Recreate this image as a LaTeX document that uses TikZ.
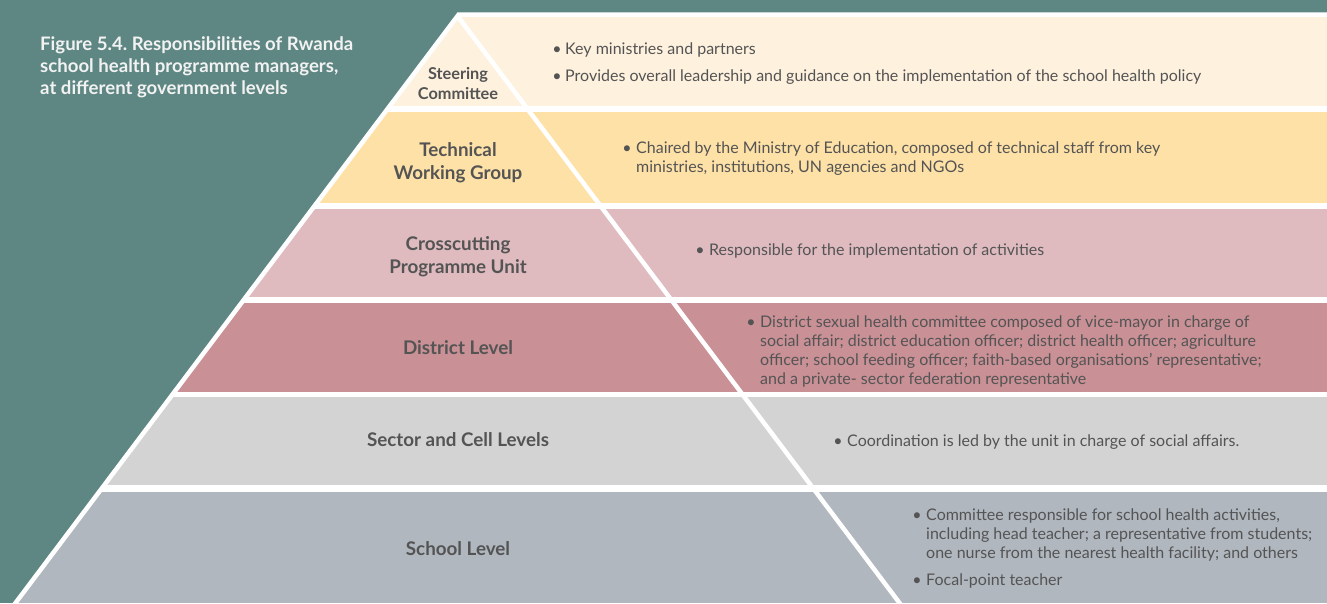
\documentclass[tikz,border=0pt]{standalone}
\usepackage{fontspec}
\setmainfont{Lato}
\frenchspacing
\definecolor{teal0}{HTML}{5E8783}
\definecolor{bandA}{HTML}{FEF2DF}
\definecolor{bandB}{HTML}{FEE1A7}
\definecolor{bandC}{HTML}{DFBBC0}
\definecolor{bandD}{HTML}{C99096}
\definecolor{bandE}{HTML}{D3D3D3}
\definecolor{bandF}{HTML}{B0B7BF}
\definecolor{txt}{HTML}{545454}
\tikzset{
  lvl/.style={font=\bfseries\fontsize{18.8}{23}\selectfont, text=txt, align=center, anchor=base, inner sep=0pt},
  lvlsmall/.style={lvl, font=\bfseries\fontsize{16.3}{20}\selectfont},
  item/.style={font=\fontsize{16}{19}\selectfont, text=txt, align=left, anchor=base west, inner sep=0pt},
  bul/.style={font=\fontsize{16}{19}\selectfont, text=txt, anchor=base, inner sep=0pt},
  ttl/.style={font=\bfseries\fontsize{18.6}{22}\selectfont, text=white!95!black, align=left, anchor=base west, inner sep=0pt},
  sep/.style={draw=white, line width=4.5pt}
}
\begin{document}
\begin{tikzpicture}[x=1pt,y=-1pt]
\useasboundingbox (0,0) rectangle (1327,603);
% background
\fill[teal0] (0,0) rectangle (1327,603);
% white base of pyramid + bands
\fill[white] (457.5,12.3) -- (1327,12.3) -- (1327,603) -- (15.5,603) -- (457.5,16) -- cycle;
\begin{scope}
  \clip (457.5,16) -- (1327,16) -- (1327,603) -- (15.5,603) -- cycle;
  \fill[bandA] (0,17.3) rectangle (1327,106);
  \fill[bandB] (0,111.5) rectangle (1327,203);
  \fill[bandC] (0,209) rectangle (1327,297);
  \fill[bandD] (0,303) rectangle (1327,391.5);
  \fill[bandE] (0,397) rectangle (1327,485);
  \fill[bandF] (0,491.5) rectangle (1327,603);
\end{scope}
% pyramid edges
\coordinate (apex) at (457.5,16);
\coordinate (baseL) at (0.4,623);
\coordinate (baseR) at (914.6,623);
\draw[sep] (baseL) -- (apex) -- (baseR);

% title (anchor = baseline of last line)
\node[ttl] (title) at (40,94.5) {Figure 5.4. Responsibilities of Rwanda\\school health programme managers,\\at different government levels};

% level labels
\node[lvlsmall] (steer) at (458,99.5) {Steering\\Committee};
\node[lvl] (twg) at (458,179.5) {Technical\\Working Group};
\node[lvl] (cpu) at (458,273.5) {Crosscutting\\Programme Unit};
\node[lvl] (dist) at (458,354.5) {District Level};
\node[lvl] (sect) at (458,446.5) {Sector and Cell Levels};
\node[lvl] (school) at (458,555.5) {School Level};

% band 1
\node[bul] (b1a) at (557,54.5) {•};
\node[item] (t1a) at (565,54.5) {Key ministries and partners};
\node[bul] (b1b) at (557,81.5) {•};
\node[item] (t1b) at (565,81.5) {Provides overall leadership and guidance on the implementation of the school health policy};
% band 2
\node[bul] (b2) at (627,153.5) {•};
\node[item] (t2) at (636,172.5) {Chaired by the Ministry of Education, composed of technical staff from key\\ministries, institutions, UN agencies and NGOs};
% band 3
\node[bul] (b3) at (700,255.5) {•};
\node[item] (t3) at (709,255.5) {Responsible for the implementation of activities};
% band 4
\node[bul] (b4) at (751,327.5) {•};
\node[item] (t4) at (760,384.5) {District sexual health committee composed of vice-mayor in charge of\\social affair; district education officer; district health officer; agriculture\\officer; school feeding officer; faith-based organisations’ representative;\\and a private- sector federation representative};
% band 5
\node[bul] (b5) at (838,446.5) {•};
\node[item] (t5) at (847,446.5) {Coordination is led by the unit in charge of social affairs.};
% band 6
\node[bul] (b6a) at (917,520.5) {•};
\node[item] (t6a) at (926,558.5) {Committee responsible for school health activities,\\including head teacher; a representative from students;\\one nurse from the nearest health facility; and others};
\node[bul] (b6b) at (917,585.5) {•};
\node[item] (t6b) at (926,585.5) {Focal-point teacher};
\end{tikzpicture}
\end{document}
